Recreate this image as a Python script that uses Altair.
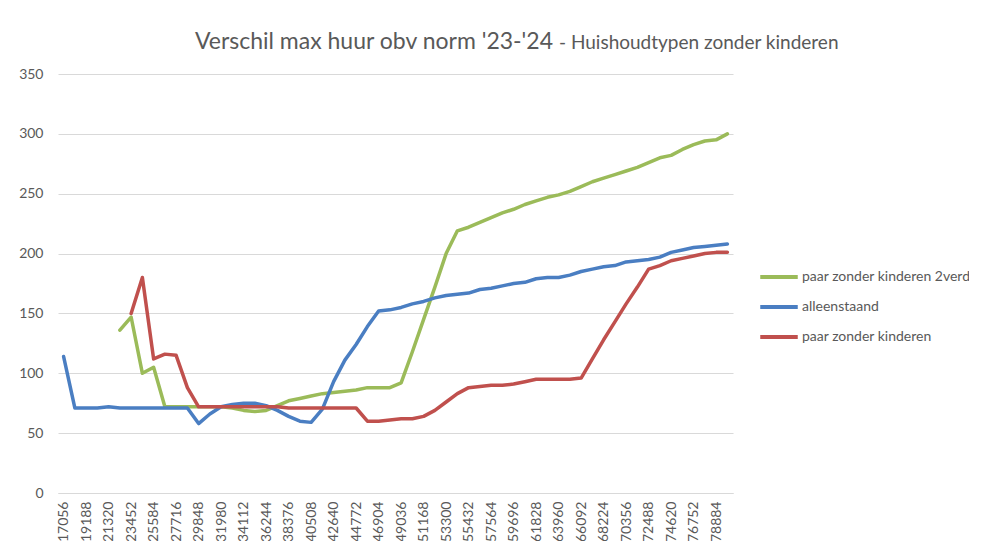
import altair as alt
import pandas as pd

categories = [17056, 18122, 19188, 20254, 21320, 22386, 23452, 24518, 25584, 26650,
              27716, 28782, 29848, 30914, 31980, 33046, 34112, 35178, 36244, 37310,
              38376, 39442, 40508, 41574, 42640, 43706, 44772, 45838, 46904, 47970,
              49036, 50102, 51168, 52234, 53300, 54366, 55432, 56498, 57564, 58630,
              59696, 60762, 61828, 62894, 63960, 65026, 66092, 67158, 68224, 69290,
              70356, 71422, 72488, 73554, 74620, 75686, 76752, 77818, 78884, 79950]

green_2verd = [None, None, None, None, None, 136, 147, 100, 105, 72,
               72, 72, 72, 72, 72, 71, 69, 68, 69, 73,
               77, 79, 81, 83, 84, 85, 86, 88, 88, 88,
               92, 118, 145, 172, 200, 219, 222, 226, 230, 234,
               237, 241, 244, 247, 249, 252, 256, 260, 263, 266,
               269, 272, 276, 280, 282, 287, 291, 294, 295, 300]

blue_alleen = [114, 71, 71, 71, 72, 71, 71, 71, 71, 71,
               71, 71, 58, 66, 72, 74, 75, 75, 73, 69,
               64, 60, 59, 70, 93, 111, 124, 139, 152, 153,
               155, 158, 160, 163, 165, 166, 167, 170, 171, 173,
               175, 176, 179, 180, 180, 182, 185, 187, 189, 190,
               193, 194, 195, 197, 201, 203, 205, 206, 207, 208]

red_paar = [None, None, None, None, None, None, 150, 180, 112, 116,
            115, 88, 72, 72, 72, 72, 72, 72, 72, 72,
            71, 71, 71, 71, 71, 71, 71, 60, 60, 61,
            62, 62, 64, 69, 76, 83, 88, 89, 90, 90,
            91, 93, 95, 95, 95, 95, 96, 112, 128, 143,
            158, 172, 187, 190, 194, 196, 198, 200, 201, 201]

series_names = ["paar zonder kinderen 2verd", "alleenstaand", "paar zonder kinderen"]
series_colors = ["#9BBB59", "#4A7EC2", "#C0504D"]

title_main = "Verschil max huur obv norm '23-'24"
title_sub = "- Huishoudtypen zonder kinderen"

cat_str = [str(c) for c in categories]
rows = []
for name, vals in zip(series_names, [green_2verd, blue_alleen, red_paar]):
    for c, v in zip(cat_str, vals):
        rows.append({"inkomen": c, "serie": name, "waarde": v})
df = pd.DataFrame(rows)

FONT = "Lato"
GREY = "#595959"

lines = alt.Chart(df).mark_line(strokeWidth=3.5, strokeJoin="round", strokeCap="round").encode(
    x=alt.X("inkomen:O", sort=cat_str,
            scale=alt.Scale(type="point", padding=0.5),
            axis=alt.Axis(title=None, values=cat_str[::2], labelAngle=270,
                          labelFont=FONT, labelFontSize=14, labelColor=GREY,
                          labelPadding=8, ticks=False, domain=True,
                          domainColor="#D9D9D9", domainWidth=1, grid=False,
                          labelAlign="right", labelBaseline="middle")),
    y=alt.Y("waarde:Q", scale=alt.Scale(domain=[0, 350], nice=False),
            axis=alt.Axis(title=None, values=[0, 50, 100, 150, 200, 250, 300, 350],
                          labelFont=FONT, labelFontSize=14, labelColor=GREY,
                          labelPadding=15, ticks=False, domain=False,
                          grid=True, gridColor="#D9D9D9", gridWidth=1)),
    color=alt.Color("serie:N",
                    scale=alt.Scale(domain=series_names, range=series_colors),
                    legend=alt.Legend(title=None, orient="none", legendX=704, legendY=186,
                                      symbolType="M-1.25,0L1.25,0", symbolSize=900,
                                      symbolStrokeWidth=4, labelFont=FONT,
                                      labelFontSize=14, labelColor=GREY,
                                      labelOffset=6, rowPadding=5, padding=0,
                                      labelLimit=0, labelBaseline="middle")),
    order=alt.Order("serie_order:Q"),
).transform_calculate(
    serie_order="indexof(" + str(series_names) + ", datum.serie)"
)

t1 = alt.Chart(pd.DataFrame({"t": [title_main]})).mark_text(
    font=FONT, fontSize=23, color=GREY, align="right", baseline="alphabetic"
).encode(text="t:N", x=alt.value(495), y=alt.value(-25))

t2 = alt.Chart(pd.DataFrame({"t": [title_sub]})).mark_text(
    font=FONT, fontSize=19, color=GREY, align="left", baseline="alphabetic"
).encode(text="t:N", x=alt.value(501), y=alt.value(-25))

chart = alt.layer(lines, t1, t2).properties(
    width=675, height=419,
    autosize=alt.AutoSizeParams(type="none"),
    padding={"left": 50, "top": 66, "right": 236, "bottom": 48},
    background="white",
).configure_view(stroke=None)

chart.save("out.html", embed_options={"renderer": "svg", "actions": False})
